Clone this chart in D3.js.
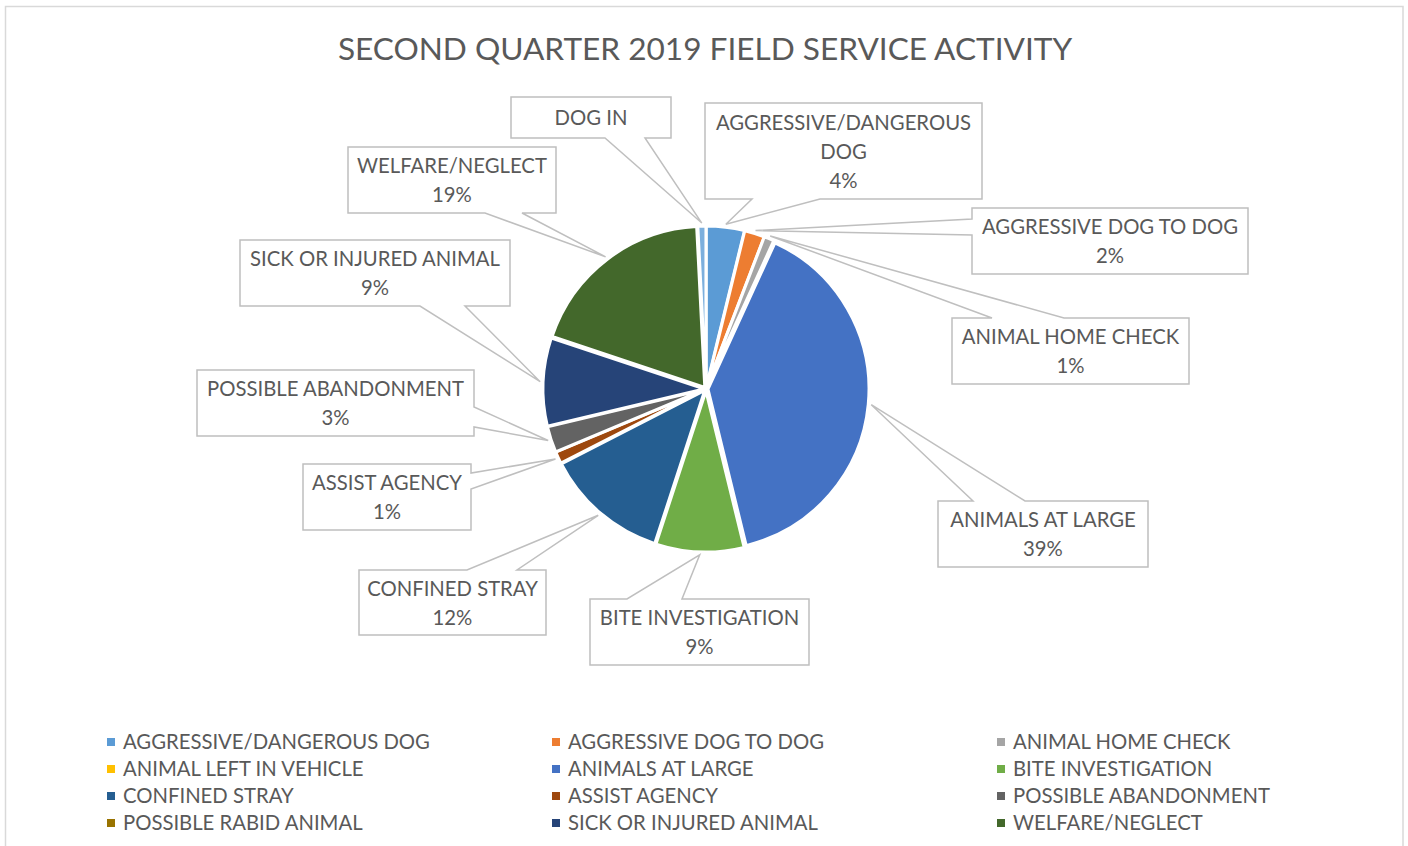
<!DOCTYPE html>
<html>
<head>
<meta charset="utf-8">
<script src="https://cdn.jsdelivr.net/npm/d3@7"></script>
<style>
  html, body { margin: 0; padding: 0; background: #fff; }
  svg { display: block; }
  text { font-family: Lato, "Open Sans", sans-serif; fill: #595959; }
</style>
</head>
<body>
<svg id="chart" width="1408" height="846"></svg>
<script>
// ---- data ----
const title = "SECOND QUARTER 2019 FIELD SERVICE ACTIVITY";
const categories = [
  "AGGRESSIVE/DANGEROUS DOG", "AGGRESSIVE DOG TO DOG", "ANIMAL HOME CHECK",
  "ANIMAL LEFT IN VEHICLE", "ANIMALS AT LARGE", "BITE INVESTIGATION",
  "CONFINED STRAY", "ASSIST AGENCY", "POSSIBLE ABANDONMENT",
  "POSSIBLE RABID ANIMAL", "SICK OR INJURED ANIMAL", "WELFARE/NEGLECT", "DOG IN"
];
const values = [19, 10, 5, 0, 196, 44, 62, 6, 13, 0, 44, 95, 4];
const colors = [
  "#5B9BD5", "#ED7D31", "#A5A5A5", "#FFC000", "#4472C4", "#70AD47",
  "#255E91", "#9E480E", "#636363", "#997300", "#264478", "#43682B", "#7CAFDD"
];
const legendCount = 12; // DOG IN is not listed in the legend

// ---- layout (label callout boxes) ----
const callouts = {
  "AGGRESSIVE/DANGEROUS DOG": {box:[705,103,277,96], side:"bottom", base:[752,820], pct:true, lines:["AGGRESSIVE/DANGEROUS","DOG"]},
  "AGGRESSIVE DOG TO DOG": {box:[972,208,276,66], side:"left", base:[219,235], pct:true},
  "ANIMAL HOME CHECK": {box:[952,318,237,66], side:"top", base:[992,1064], pct:true},
  "ANIMALS AT LARGE": {box:[938,501,210,66], side:"top", base:[973,1025], pct:true},
  "BITE INVESTIGATION": {box:[590,599,219,66], side:"top", base:[627,682], pct:true},
  "CONFINED STRAY": {box:[359,570,187,65], side:"top", base:[467,517], pct:true},
  "ASSIST AGENCY": {box:[303,464,168,66], side:"right", base:[473,489], pct:true},
  "POSSIBLE ABANDONMENT": {box:[197,370,277,66], side:"right", base:[407,427], pct:true},
  "SICK OR INJURED ANIMAL": {box:[240,240,270,66], side:"bottom", base:[420,465], pct:true},
  "WELFARE/NEGLECT": {box:[348,147,208,66], side:"bottom", base:[485,522], pct:true},
  "DOG IN": {box:[511,97,160,41], side:"bottom", base:[605,645], pct:false}
};

const svg = d3.select("#chart");

// chart frame
svg.append("rect").attr("x", 5.5).attr("y", 6.5).attr("width", 1397.5).attr("height", 860)
  .attr("fill", "#fff").attr("stroke", "#d9d9d9").attr("stroke-width", 1.5);

// title
svg.append("text").attr("x", 705).attr("y", 52).attr("text-anchor", "middle")
  .attr("dominant-baseline", "middle").style("font-size", "31.6px").text(title);

// pie
const cx = 706, cy = 389, R = 161, explode = 2;
const data = categories.map((c, i) => ({name: c, value: values[i], color: colors[i]}));
const total = d3.sum(values);
const pie = d3.pie().sort(null).value(d => d.value);
const arcs = pie(data);
const arc = d3.arc().innerRadius(0).outerRadius(R);
const tipArc = d3.arc().innerRadius(166).outerRadius(166);
const pct = d3.format(".0%");

const g = svg.append("g").attr("transform", `translate(${cx},${cy})`);
g.selectAll("path.slice").data(arcs.filter(d => d.data.value > 0)).join("path")
  .attr("class", "slice")
  .attr("d", arc)
  .attr("fill", d => d.data.color)
  .attr("stroke", "#fff").attr("stroke-width", 3).attr("stroke-linejoin", "round")
  .attr("transform", d => {
    const a = (d.startAngle + d.endAngle) / 2;
    return `translate(${explode * Math.sin(a)},${-explode * Math.cos(a)})`;
  });

// callouts
function calloutPath(box, side, base, tip) {
  const [x, y, w, h] = box;
  const x0 = x, y0 = y, x1 = x + w, y1 = y + h;
  const [a, b] = base;
  const pts = [[x0, y0]];
  if (side === "top") pts.push([a, y0], tip, [b, y0]);
  pts.push([x1, y0]);
  if (side === "right") pts.push([x1, a], tip, [x1, b]);
  pts.push([x1, y1]);
  if (side === "bottom") pts.push([b, y1], tip, [a, y1]);
  pts.push([x0, y1]);
  if (side === "left") pts.push([x0, b], tip, [x0, a]);
  return "M" + pts.map(p => p.join(",")).join("L") + "Z";
}

const lg = svg.append("g");
arcs.forEach(d => {
  const c = callouts[d.data.name];
  if (!c || d.data.value <= 0) return;
  const t = tipArc.centroid(d);
  const tip = [cx + t[0], cy + t[1]];
  lg.append("path").attr("d", calloutPath(c.box, c.side, c.base, tip))
    .attr("fill", "#fff").attr("stroke", "#bfbfbf").attr("stroke-width", 1.5)
    .attr("stroke-linejoin", "miter");
  const lines = (c.lines ? c.lines.slice() : [d.data.name]);
  if (c.pct) lines.push(pct(d.data.value / total));
  const [bx, by, bw, bh] = c.box;
  const lh = 29;
  const startY = by + bh / 2 - (lines.length - 1) * lh / 2 + 2.5;
  lines.forEach((s, i) => {
    lg.append("text").attr("x", bx + bw / 2).attr("y", startY + i * lh)
      .attr("text-anchor", "middle").attr("dominant-baseline", "middle")
      .style("font-size", "20.3px").text(s);
  });
});

// legend
const legendX = [107, 552, 997];
const legendY = [742, 769, 796, 823];
const leg = svg.append("g");
data.slice(0, legendCount).forEach((d, i) => {
  const col = i % 3, row = Math.floor(i / 3);
  const x = legendX[col], y = legendY[row];
  leg.append("rect").attr("x", x).attr("y", y - 4).attr("width", 8).attr("height", 8).attr("fill", d.color);
  leg.append("text").attr("x", x + 16).attr("y", y + 2).attr("dominant-baseline", "middle")
    .style("font-size", "20.3px").text(d.name);
});
</script>
</body>
</html>
